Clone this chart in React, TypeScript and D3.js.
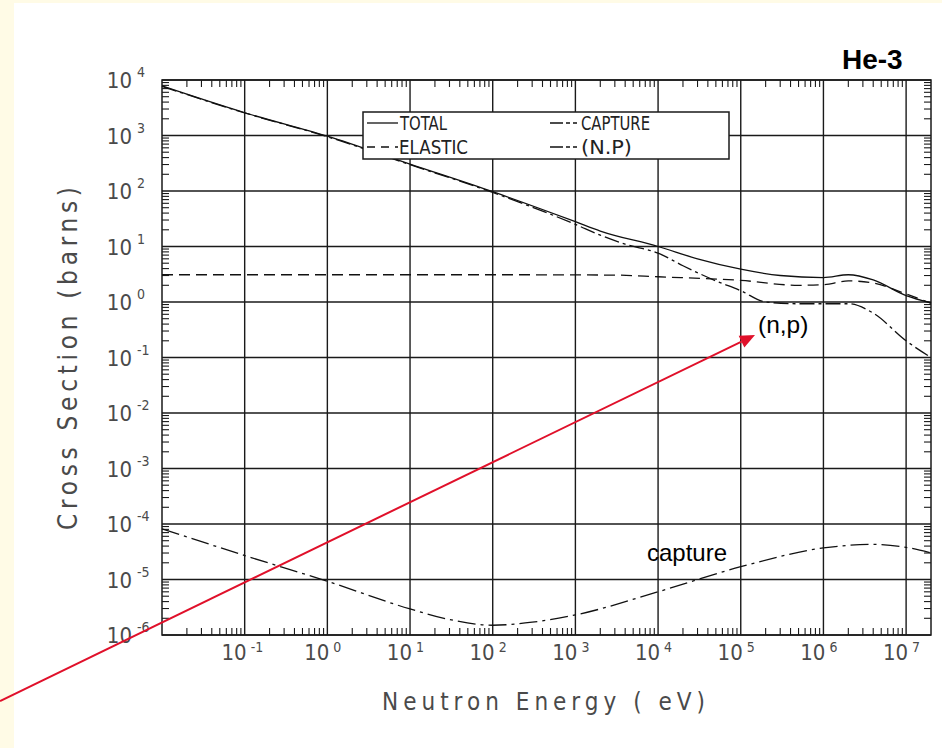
import React from 'react';
import * as d3 from 'd3';

const W = 942;
const H = 748;

// neutron energies (eV) and cross sections (barns)
const totalEnergy = [0.01, 0.1, 1, 10, 100, 1000, 2000, 1e4, 3e4, 1e5, 3e5, 1e6, 2e6, 4e6, 1e7, 2e7];
const totalXs = [7800, 2570, 970, 305, 97, 28, 19, 10, 6, 3.9, 3.0, 2.75, 3.1, 2.5, 1.3, 0.96];

const elasticEnergy = [0.01, 1, 100, 3000, 1e4, 1e5, 5e5, 1e6, 2e6, 4e6, 1e7, 2e7];
const elasticXs = [3.1, 3.1, 3.1, 3.05, 2.85, 2.45, 2.0, 2.05, 2.4, 2.2, 1.4, 0.95];

const npEnergy = [0.01, 0.1, 1, 10, 100, 1000, 2000, 4000, 1e4, 2e4, 5e4, 1e5, 2e5, 5e5, 2e6, 4e6, 1e7, 2e7];
const npXs = [7700, 2550, 950, 298, 94, 25, 16, 11, 7.6, 4.5, 2.4, 1.6, 1.0, 0.93, 0.93, 0.63, 0.2, 0.1];

const captureEnergy = [0.01, 0.1, 1, 10, 30, 100, 300, 1000, 1e4, 1e5, 1e6, 4e6, 1e7, 2e7];
const captureXs = [8.2e-5, 2.7e-5, 9.3e-6, 2.95e-6, 1.9e-6, 1.5e-6, 1.7e-6, 2.3e-6, 6.0e-6, 1.7e-5, 3.7e-5, 4.3e-5, 3.8e-5, 3.0e-5];

const xDecades = [-1, 0, 1, 2, 3, 4, 5, 6, 7];
const yDecades = [4, 3, 2, 1, 0, -1, -2, -3, -4, -5, -6];

const legendLeft = ['TOTAL', 'ELASTIC'];
const legendRight = ['CAPTURE', '(N.P)'];

const plotFont = "'DejaVu Sans Condensed', 'DejaVu Sans', sans-serif";
const textFont = "'Liberation Sans', Arial, sans-serif";
const ink = '#1a1a1a';
const labelInk = '#4a4a4a';

const x = d3.scaleLog().domain([0.01, 2e7]).range([162, 931]);
const y = d3.scaleLog().domain([1e-6, 1e4]).range([635, 80]);

const zip = (e: number[], v: number[]) => e.map((d, i) => [d, v[i]] as [number, number]);

const line = d3
  .line<[number, number]>()
  .x(d => x(d[0]))
  .y(d => y(d[1]))
  .curve(d3.curveMonotoneX);

export default function App() {
  const [x0, x1] = x.range();
  const [y0, y1] = y.range(); // y0 bottom, y1 top

  // minor ticks (2..9 within each decade)
  const xMinor: number[] = [];
  for (let p = -2; p <= 7; p++) {
    for (let k = 2; k <= 9; k++) {
      const v = k * Math.pow(10, p);
      if (v < 2e7) xMinor.push(v);
    }
  }
  const yMinor: number[] = [];
  for (let p = -6; p <= 3; p++) {
    for (let k = 2; k <= 9; k++) yMinor.push(k * Math.pow(10, p));
  }
  const tk = 7;

  const curves = [
    { key: 'total', d: line(zip(totalEnergy, totalXs)), dash: undefined },
    { key: 'elastic', d: line(zip(elasticEnergy, elasticXs)), dash: '11,6' },
    { key: 'np', d: line(zip(npEnergy, npXs)), dash: '15,4,3,4' },
    { key: 'capture', d: line(zip(captureEnergy, captureXs)), dash: '18,5,3,5' },
  ];

  // red arrow from off-plot to the (n,p) label
  const ax0 = 0, ay0 = 701, ax1 = 755, ay1 = 335;
  const len = Math.hypot(ax1 - ax0, ay1 - ay0);
  const ux = (ax1 - ax0) / len, uy = (ay1 - ay0) / len;
  const hb = 15, hw = 6.5;
  const bx = ax1 - ux * hb, by = ay1 - uy * hb;
  const head = `M${ax1},${ay1}L${bx - uy * hw},${by + ux * hw}L${bx + uy * hw},${by - ux * hw}Z`;

  return (
    <div style={{ position: 'absolute', left: 0, top: 0 }}>
      <svg width={W} height={H} style={{ display: 'block' }}>
        <rect width={W} height={H} fill="#fff" />
        <rect width={W} height={3} fill="#fffbe6" />
        <rect width={14} height={H} fill="#fffbe6" />

        {/* grid */}
        <g stroke={ink} strokeWidth={1.4}>
          {xDecades.map(p => (
            <line key={'gx' + p} x1={x(Math.pow(10, p))} x2={x(Math.pow(10, p))} y1={y1} y2={y0} />
          ))}
          {yDecades.map(p => (
            <line key={'gy' + p} x1={x0} x2={x1} y1={y(Math.pow(10, p))} y2={y(Math.pow(10, p))} />
          ))}
        </g>

        {/* minor ticks */}
        <g stroke={ink} strokeWidth={1.1}>
          {xMinor.map(v => (
            <g key={'mx' + v}>
              <line x1={x(v)} x2={x(v)} y1={y0} y2={y0 - tk} />
              <line x1={x(v)} x2={x(v)} y1={y1} y2={y1 + tk} />
            </g>
          ))}
          {yMinor.map(v => (
            <g key={'my' + v}>
              <line x1={x0} x2={x0 + tk} y1={y(v)} y2={y(v)} />
              <line x1={x1} x2={x1 - tk} y1={y(v)} y2={y(v)} />
            </g>
          ))}
        </g>

        <rect x={x0} y={y1} width={x1 - x0} height={y0 - y1} fill="none" stroke={ink} strokeWidth={1.5} />

        {/* curves */}
        <g fill="none" stroke="#111" strokeWidth={1.3}>
          {curves.map(c => (
            <path key={c.key} d={c.d || ''} strokeDasharray={c.dash} />
          ))}
        </g>

        {/* legend */}
        <rect x={363} y={112} width={366} height={47} fill="#fff" stroke={ink} strokeWidth={1.5} />
        <g stroke="#111" strokeWidth={1.3}>
          <line x1={367} x2={398} y1={123} y2={123} />
          <line x1={367} x2={398} y1={147} y2={147} strokeDasharray="8,6" />
          <line x1={550} x2={580} y1={123} y2={123} strokeDasharray="13,3,4,3,4" />
          <line x1={550} x2={580} y1={147} y2={147} strokeDasharray="13,3,4,3,4" />
        </g>
        <g fontFamily={plotFont} fontSize={19} fill="#222">
          <text x={400} y={130} textLength={47} lengthAdjust="spacingAndGlyphs">{legendLeft[0]}</text>
          <text x={399} y={154} textLength={69} lengthAdjust="spacingAndGlyphs">{legendLeft[1]}</text>
          <text x={581} y={130} textLength={69} lengthAdjust="spacingAndGlyphs">{legendRight[0]}</text>
          <text x={581} y={154} textLength={51} lengthAdjust="spacingAndGlyphs">{legendRight[1]}</text>
        </g>

        {/* y tick labels */}
        <g fontFamily={plotFont} fill={labelInk}>
          {yDecades.map(p => {
            const yy = y(Math.pow(10, p));
            return (
              <g key={'ly' + p}>
                <text x={132} y={yy + 8} fontSize={22} textAnchor="end">10</text>
                <text x={137} y={yy - 3} fontSize={14}>{p < 0 ? '-' + Math.abs(p) : String(p)}</text>
              </g>
            );
          })}
        </g>

        {/* x tick labels */}
        <g fontFamily={plotFont} fill={labelInk}>
          {xDecades.map(p => {
            const xx = x(Math.pow(10, p));
            return (
              <g key={'lx' + p}>
                <text x={xx + 2} y={660} fontSize={22} textAnchor="end">10</text>
                <text x={xx + 6} y={652} fontSize={14}>{p < 0 ? '-' + Math.abs(p) : String(p)}</text>
              </g>
            );
          })}
        </g>

        {/* axis titles */}
        <text
          x={382}
          y={710}
          fontFamily={plotFont}
          fontSize={24}
          fill={labelInk}
          textLength={323}
          lengthAdjust="spacing"
        >
          Neutron Energy ( eV)
        </text>
        <text
          transform="translate(77,530) rotate(-90)"
          fontFamily={plotFont}
          fontSize={26}
          fill={labelInk}
          textLength={343}
          lengthAdjust="spacing"
        >
          Cross Section (barns)
        </text>

        {/* annotations */}
        <text x={842} y={69} fontFamily={textFont} fontSize={28} fontWeight="bold" fill="#000">He-3</text>
        <text x={758} y={333} fontFamily={textFont} fontSize={24.5} fill="#000">(n,p)</text>
        <text x={647} y={561} fontFamily={textFont} fontSize={24} fill="#000">capture</text>

        <line x1={ax0} y1={ay0} x2={bx} y2={by} stroke="#e0102a" strokeWidth={2} />
        <path d={head} fill="#e0102a" />
      </svg>
    </div>
  );
}
